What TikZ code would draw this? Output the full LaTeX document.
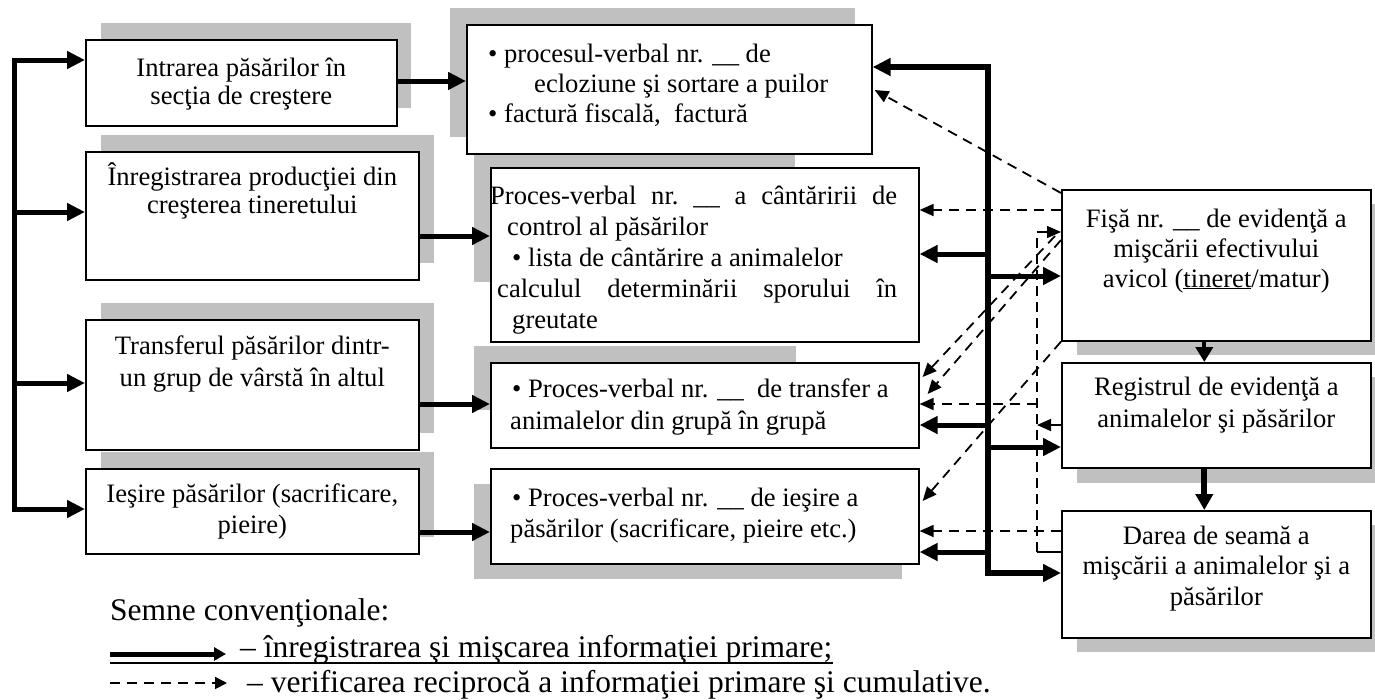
\documentclass[tikz,border=0pt]{standalone}
\usepackage{fontspec}
\setmainfont{Liberation Serif}
\usetikzlibrary{arrows.meta,calc}
\definecolor{shadowgray}{RGB}{192,192,192}
\begin{document}
\begin{tikzpicture}[x=1pt,y=-1pt,
  box/.style={draw, line width=1.6pt, fill=white, inner sep=0pt, anchor=north west},
  txt/.style={font=\fontsize{26.6}{#1}\selectfont, inner sep=0pt},
  txt/.default=31,
  legtxt/.style={font=\fontsize{31.5}{36}\selectfont, inner sep=0pt, anchor=base west},
  thickarr/.style={line width=5pt, -{Triangle[length=18pt,width=17pt]}},
  thickboth/.style={line width=5pt, {Triangle[length=18pt,width=17pt]}-{Triangle[length=18pt,width=17pt]}},
  busboth/.style={line width=6pt, {Triangle[length=18pt,width=17pt]}-{Triangle[length=18pt,width=17pt]}},
  dasharr/.style={line width=1.8pt, dash pattern=on 10pt off 7pt, -{Triangle[length=14pt,width=12pt]}},
  thinarr/.style={line width=1.5pt, -{Triangle[length=14pt,width=12pt]}},
  vdash/.style={line width=1.5pt, dash pattern=on 10pt off 6pt},
]
\useasboundingbox (0,0) rectangle (1375,699);

% drop shadows
\fill[shadowgray] (101,23) rectangle (411,108);
\fill[shadowgray] (101,135) rectangle (434,263);
\fill[shadowgray] (101,303) rectangle (434,433);
\fill[shadowgray] (101,452) rectangle (434,537);
\fill[shadowgray] (450,8) rectangle (855,137);
\fill[shadowgray] (474,154) rectangle (795,282);
\fill[shadowgray] (474,346) rectangle (796,410);
\fill[shadowgray] (474,484) rectangle (902,579);
\fill[shadowgray] (1077,204) rectangle (1375,355);
\fill[shadowgray] (1077,377) rectangle (1375,483);
\fill[shadowgray] (1077,525) rectangle (1375,652);

% left column
\node[box, minimum width=311pt, minimum height=86pt] (A) at (85,39) {};
\node[box, minimum width=333pt, minimum height=128pt] (B) at (85,151) {};
\node[box, minimum width=333pt, minimum height=130pt] (C) at (85,319) {};
\node[box, minimum width=333pt, minimum height=85pt] (D) at (85,468) {};
% middle column
\node[box, minimum width=405pt, minimum height=129pt] (P1) at (466,24) {};
\node[box, minimum width=428pt, minimum height=174pt] (P2) at (490,167) {};
\node[box, minimum width=428pt, minimum height=85pt] (P3) at (490,362) {};
\node[box, minimum width=428pt, minimum height=95pt] (P4) at (490,468) {};
% right column
\node[box, minimum width=309pt, minimum height=151pt] (F) at (1061,189) {};
\node[box, minimum width=309pt, minimum height=105pt] (R) at (1061,362) {};
\node[box, minimum width=309pt, minimum height=127pt] (S) at (1061,510) {};

% box texts (placed by the baseline of their last line)
\node[txt=28, align=center, anchor=base] (tA) at ($(A.north)+(0,65)$) {Intrarea păsărilor în\\secţia de creştere};
\node[txt=28, align=center, anchor=base] (tB) at ($(B.north)+(0,62)$) {Înregistrarea producţiei din\\creşterea tineretului};
\node[txt=32, align=center, anchor=base] (tC) at ($(C.north)+(0,67)$) {Transferul păsărilor dintr-\\un grup de vârstă în altul};
\node[txt=31, align=center, anchor=base] (tD) at ($(D.north)+(0,65)$) {Ieşire păsărilor (sacrificare,\\pieire)};

\node[txt=30, align=left, anchor=base west] (tP1) at ($(P1.north west)+(22,98)$)
  {• procesul-verbal nr. \_\_ de\\\hspace*{46pt}ecloziune şi sortare a puilor\\• factură fiscală,\ \ factură};
\node[txt=31, align=left, anchor=base west] (tP2) at ($(P2.north west)+(0,161)$)
  {\hbox to 407pt{Proces-verbal\hfil nr.\hfil \_\_\hfil a\hfil cântăririi\hfil de}\\
   \hspace*{17pt}control al păsărilor\\
   \hspace*{22pt}• lista de cântărire a animalelor\\
   \hspace*{7pt}\hbox to 400pt{calculul\hfil determinării\hfil sporului\hfil în}\\
   \hspace*{22pt}greutate};
\node[txt=32, align=left, anchor=base west] (tP3) at ($(P3.north west)+(22,67)$)
  {• Proces-verbal nr. \_\_\ \ de transfer a\\\hspace*{-2pt}animalelor din grupă în grupă};
\node[txt=31, align=left, anchor=base west] (tP4) at ($(P4.north west)+(22,69)$)
  {• Proces-verbal nr. \_\_ de ieşire a\\\hspace*{-2pt}păsărilor (sacrificare, pieire etc.)};

\node[txt=30, align=center, anchor=base] (tF) at ($(F.north)+(0,98)$)
  {Fişă nr. \_\_ de evidenţă a\\mişcării efectivului\\avicol (\underline{tineret}/matur)};
\node[txt=32, align=center, anchor=base] (tR) at ($(R.north)+(0,65)$)
  {Registrul de evidenţă a\\animalelor şi păsărilor};
\node[txt=30.5, align=center, anchor=base] (tS) at ($(S.north)+(0,95)$)
  {Darea de seamă a\\mişcării a animalelor şi a\\păsărilor};

% left distribution bus
\coordinate (lT) at (14,60);
\coordinate (l1) at (14,212);
\coordinate (l2) at (14,383);
\coordinate (lB) at (14,509);
\draw[thickboth] (lT -| A.west) -- (lT) -- (lB) -- (lB -| D.west);
\draw[thickarr] (l1) -- (l1 -| B.west);
\draw[thickarr] (l2) -- (l2 -| C.west);

% events to primary documents
\draw[thickarr] ($(A.north east)+(0,42)$) coordinate (aA) -- (aA -| P1.west);
\draw[thickarr] ($(B.north east)+(0,85)$) coordinate (aB) -- (aB -| P2.west);
\draw[thickarr] ($(C.north east)+(0,85)$) coordinate (aC) -- (aC -| P3.west);
\draw[thickarr] ($(D.north east)+(0,64)$) coordinate (aD) -- (aD -| P4.west);

% right bus
\coordinate (bT) at (988,67);
\coordinate (bB) at (988,573);
\coordinate (b1) at (988,254);
\coordinate (b2) at (988,276);
\coordinate (b3) at (988,425);
\coordinate (b4) at (988,447);
\coordinate (b5) at (988,552);
\draw[busboth] (bT -| P1.east) -- (bT) -- (bB) -- (bB -| S.west);
\draw[thickarr] (b1) -- (b1 -| P2.east);
\draw[thickarr] (b2) -- (b2 -| F.west);
\draw[thickarr] (b3) -- (b3 -| P3.east);
\draw[thickarr] (b4) -- (b4 -| R.west);
\draw[thickarr] (b5) -- (b5 -| P4.east);

% right column chain
\draw[line width=4pt, -{Triangle[length=15pt,width=17pt]}] ($(F.south)+(-12,0)$) coordinate (fr) -- (fr |- R.north);
\draw[line width=6pt, -{Triangle[length=16pt,width=17pt]}] ($(R.south)+(-12,0)$) coordinate (rs) -- (rs |- S.north);

% cross-checking links
\coordinate (v1) at (1037,552);
\coordinate (v2) at (1037,232);
\coordinate (v3) at (1037,425);
\coordinate (v4) at (1037,404);
\draw[line width=1.5pt] (v1 -| S.west) -- (v1);
\draw[vdash] (v1) -- (v2);
\draw[thinarr] (v2) -- (v2 -| F.west);
\draw[thinarr] (v3 -| R.west) -- (v3);
\draw[dasharr] (v4) -- (v4 -| P3.east);
\draw[dasharr] ($(F.north west)+(0,4)$) -- ($(P1.north east)+(2,66)$);
\draw[dasharr] ($(F.north west)+(0,21)$) coordinate (f2) -- (f2 -| P2.east);
\draw[dasharr] ($(F.north west)+(-6,47)$) -- ($(P3.north east)+(3,15)$);
\draw[dasharr] ($(F.north west)+(0,51)$) -- ($(P3.north east)+(8,32)$);
\draw[dasharr] (F.south west) -- ($(P4.north east)+(3,33)$);
\draw[dasharr] ($(S.north west)+(0,21)$) coordinate (s1) -- (s1 -| P4.east);

% legend
\node[legtxt] (sem) at (110,620) {Semne convenţionale:};
\coordinate (g1) at (110,654);
\coordinate (g1e) at (226,654);
\draw[line width=5pt, -{Triangle[length=12pt,width=13pt]}] (g1) -- (g1e);
\node[legtxt] (leg1) at (240,657) {– înregistrarea şi mişcarea informaţiei primare;};
\draw[line width=1.5pt] ($(g1)+(0,9)$) -- ($(leg1.base east)+(0,6)$);
\coordinate (g2) at (110,683);
\coordinate (g2e) at (227,683);
\draw[line width=1.8pt, dash pattern=on 10pt off 7pt, -{Triangle[length=12pt,width=12pt]}] (g2) -- (g2e);
\node[legtxt] (leg2) at (247,692) {– verificarea reciprocă a informaţiei primare şi cumulative.};
\end{tikzpicture}
\end{document}
